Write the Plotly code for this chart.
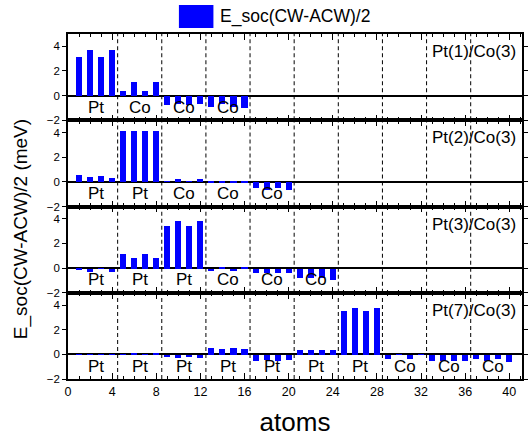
import plotly.graph_objects as go
from plotly.subplots import make_subplots

# ---- data ----
atoms = list(range(1, 41))

pt1_co3 = [3.17, 3.71, 3.17, 3.71, 0.38, 1.14, 0.38, 1.14,
           -0.80, -0.68, -0.73, -0.68, -0.90, -0.70, -0.90, -1.00]
pt2_co3 = [0.52, 0.35, 0.49, 0.33, 4.10, 4.10, 4.10, 4.10,
           -0.03, 0.19, -0.02, 0.18, -0.10, -0.08, -0.08, -0.08,
           -0.52, -0.65, -0.49, -0.65]
pt3_co3 = [-0.10, -0.25, -0.03, -0.25, 1.16, 0.84, 1.22, 0.86,
           3.46, 3.86, 3.43, 3.84, -0.20, 0.08, -0.19, 0.08,
           -0.38, -0.38, -0.38, -0.32, -0.73, -0.78, -0.78, -0.95]
pt7_co3 = [-0.02, -0.02, -0.02, -0.02, -0.02, 0.05, -0.02, 0.05,
           -0.22, -0.30, -0.19, -0.30, 0.56, 0.44, 0.57, 0.44,
           -0.49, -0.41, -0.52, -0.41, 0.41, 0.35, 0.41, 0.35,
           3.56, 3.78, 3.56, 3.78, -0.35, -0.03, -0.35, -0.03,
           -0.55, -0.49, -0.55, -0.50, -0.35, -0.55, -0.35, -0.57]

groups1 = ["Pt", "Co", "Co", "Co"]
groups2 = ["Pt", "Pt", "Co", "Co", "Co"]
groups3 = ["Pt", "Pt", "Pt", "Co", "Co", "Co"]
groups4 = ["Pt"] * 7 + ["Co"] * 3

panel_names = ["Pt(1)/Co(3)", "Pt(2)/Co(3)", "Pt(3)/Co(3)", "Pt(7)/Co(3)"]
series_name = "E_soc(CW-ACW)/2"
x_ticks = [0, 4, 8, 12, 16, 20, 24, 28, 32, 36, 40]
y_ticks = [-2, 0, 2, 4]
separators = [4.5, 8.5, 12.5, 16.5, 20.5, 24.5, 28.5, 32.5, 36.5]

panels = [(pt1_co3, groups1), (pt2_co3, groups2), (pt3_co3, groups3), (pt7_co3, groups4)]

FONT = "Liberation Sans, Arial, sans-serif"
W, H = 529, 437
ML, MR, MT, MB = 67.5, 1, 34, 58
PW, PH = W - ML - MR, H - MT - MB


def px_x(px):
    return (px - ML) / PW


def px_y(py):
    return (H - MB - py) / PH


fig = make_subplots(rows=4, cols=1, shared_xaxes=True, vertical_spacing=0)

for i, (vals, groups) in enumerate(panels, start=1):
    fig.add_trace(go.Bar(x=atoms[:len(vals)], y=vals, width=0.55,
                         marker=dict(color="#0000FF", line=dict(width=0)),
                         name=series_name, showlegend=False), row=i, col=1)
    for g, lab in enumerate(groups):
        fig.add_annotation(x=4 * g + 2.5, y=-0.95, text=lab, showarrow=False,
                           font=dict(family=FONT, size=17, color="black"),
                           row=i, col=1)
    fig.add_annotation(x=40.75, y=3.57, text=panel_names[i - 1], showarrow=False,
                       xanchor="right", font=dict(family=FONT, size=17, color="black"),
                       row=i, col=1)

for xv in separators:
    fig.add_vline(x=xv, line=dict(color="black", width=1, dash="4px,3px"), row="all", col=1)

fig.update_xaxes(range=[0, 41.15], tickvals=x_ticks, ticks="inside", ticklen=6,
                 tickwidth=1.2, tickcolor="black",
                 minor=dict(ticks="inside", ticklen=3.5, dtick=1, tick0=0, tickcolor="black"),
                 showline=True, linecolor="black", linewidth=1.5, mirror="allticks",
                 showgrid=False, zeroline=False,
                 tickfont=dict(family=FONT, size=12.5, color="black"))
fig.update_yaxes(range=[-2, 5], tickvals=y_ticks, ticks="outside", ticklen=4,
                 tickcolor="black", showline=True, linecolor="black", linewidth=1.5,
                 mirror="ticks", showgrid=False, zeroline=True, zerolinecolor="black",
                 zerolinewidth=1.5, tickfont=dict(family=FONT, size=11.5, color="black"))
fig.update_xaxes(title=dict(text="atoms", font=dict(family=FONT, size=26, color="black"),
                            standoff=16), row=4, col=1)

# legend drawn as swatch + label
fig.add_shape(type="rect", xref="paper", yref="paper",
              x0=px_x(180), x1=px_x(215), y0=px_y(28), y1=px_y(5),
              fillcolor="#0000FF", line=dict(width=0))
fig.add_annotation(xref="paper", yref="paper", x=px_x(220), y=px_y(16.5),
                   xanchor="left", yanchor="middle", text=series_name, showarrow=False,
                   font=dict(family=FONT, size=17.5, color="black"))

# y-axis title
fig.add_annotation(xref="paper", yref="paper", x=px_x(20), y=px_y(229),
                   xanchor="center", yanchor="middle", textangle=-90,
                   text=series_name + " (meV)", showarrow=False,
                   font=dict(family=FONT, size=19, color="black"))

fig.update_layout(width=W, height=H, margin=dict(l=ML, r=MR, t=MT, b=MB),
                  paper_bgcolor="white", plot_bgcolor="white", bargap=0,
                  showlegend=False)

fig.write_html("out.html", config={"displayModeBar": False},
               post_script="document.body.style.margin='0px';")
